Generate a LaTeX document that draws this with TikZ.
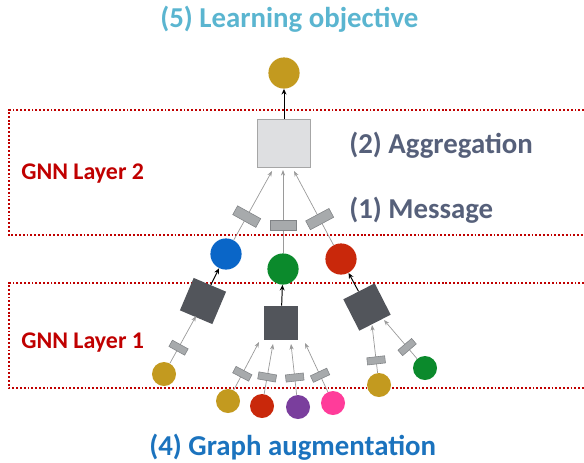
\documentclass[tikz,border=0pt]{standalone}
\usepackage{fontspec}
\setmainfont{Carlito}
\definecolor{cgold}{HTML}{C39A1F}
\definecolor{cblue}{HTML}{0A66C8}
\definecolor{cgreen}{HTML}{0B8A2C}
\definecolor{cred}{HTML}{C9280B}
\definecolor{cpurple}{HTML}{7A3E9D}
\definecolor{cpink}{HTML}{FF3C9A}
\definecolor{darkbox}{HTML}{52555B}
\definecolor{boxfill}{HTML}{DEDFE1}
\definecolor{boxedge}{HTML}{A6A6A6}
\definecolor{msgfill}{HTML}{A7AAAC}
\definecolor{msgedge}{HTML}{808386}
\definecolor{edgegray}{HTML}{9A9A9A}
\definecolor{layerred}{HTML}{C00000}
\definecolor{slate}{HTML}{56607A}
\definecolor{skyblue}{HTML}{5AB5D0}
\definecolor{augblue}{HTML}{1B73BE}
\usepackage{tikz}
\usetikzlibrary{arrows.meta}

\begin{document}
\begin{tikzpicture}[x=0.025cm, y=-0.025cm,
    vtx/.style={circle, minimum size=0.78cm, inner sep=0},
    leaf/.style={circle, minimum size=0.6cm, inner sep=0},
    aggbox/.style={draw=boxedge, fill=boxfill, line width=0.6pt, minimum width=1.32cm, minimum height=1.2cm},
    convbox/.style={fill=darkbox, minimum size=0.88cm, inner sep=0},
    msg/.style={draw=msgedge, fill=msgfill, line width=0.4pt, inner sep=0, sloped, minimum width=0.25cm, minimum height=0.66cm},
    smallmsg/.style={msg, minimum width=0.18cm, minimum height=0.45cm},
    edge/.style={draw=edgegray, line width=0.5pt, -{Stealth[length=4pt, width=3pt]}},
    up/.style={draw=black, line width=0.7pt, -{Stealth[length=4pt, width=3.5pt]}},
    layerbox/.style={draw=layerred, line width=1.3pt, dash pattern=on 1.3pt off 1.4pt},
    steptext/.style={anchor=base west, inner sep=0, font=\fontsize{20.5}{24}\selectfont\bfseries},
    layertext/.style={anchor=base west, inner sep=0, text=layerred, font=\fontsize{17}{20}\selectfont\bfseries},
]
    \useasboundingbox (0,0) rectangle (584,462);

    % layer frames, open to the right
    \draw[layerbox] (584,110) -- (9,110) -- (9,235) -- (584,235);
    \draw[layerbox] (584,283) -- (9,283) -- (9,388) -- (584,388);

    \node[layertext] (lay2) at (21,179) {GNN Layer 2};
    \node[layertext] (lay1) at (21,348) {GNN Layer 1};
    \node[steptext, text=skyblue] (objlabel) at (160,27) {(5) Learning objective};
    \node[steptext, text=slate] (agglabel) at (349,153) {(2) Aggregation};
    \node[steptext, text=slate] (msglabel) at (349,218) {(1) Message};
    \node[steptext, text=augblue] (auglabel) at (149,455) {(4) Graph augmentation};

    % layer 2
    \node[vtx, fill=cgold] (out) at (284,73) {};
    \node[aggbox] (agg) at (284,143) {};
    \node[vtx, fill=cblue] (hb) at (226,254) {};
    \node[vtx, fill=cgreen] (hg) at (283,269) {};
    \node[vtx, fill=cred] (hr) at (341,259) {};

    % layer 1
    \node[convbox, rotate=-23] (sl) at (203,301) {};
    \node[convbox, minimum size=0.85cm] (sm) at (281,323) {};
    \node[convbox, rotate=27] (sr) at (367,307) {};
    \node[leaf, fill=cgold] (a1) at (164,374) {};
    \node[leaf, fill=cgold] (b1) at (228,401) {};
    \node[leaf, fill=cred] (b2) at (262,406) {};
    \node[leaf, fill=cpurple] (b3) at (298,407) {};
    \node[leaf, fill=cpink] (b4) at (333,403) {};
    \node[leaf, fill=cgold] (c1) at (379,385) {};
    \node[leaf, fill=cgreen] (c2) at (425,368) {};

    % arrow ends below the boxes
    \coordinate (t1) at (272,171);
    \coordinate (t2) at (283,170);
    \coordinate (t3) at (294,171);
    \coordinate (ta) at (196,316);
    \coordinate (tb1) at (259,342);
    \coordinate (tb2) at (273,344);
    \coordinate (tb3) at (291,344);
    \coordinate (tb4) at (305,343);
    \coordinate (tc1) at (372,325);
    \coordinate (tc2) at (384,320);

    \draw[up] (agg) -- (out);
    \draw[up] (sl) -- (hb);
    \draw[up] (sm) -- (hg);
    \draw[up] (sr) -- (hr);

    \draw[edge] (hb) -- node[msg, pos=0.34] {} (t1);
    \draw[edge] (hg) -- node[msg, pos=0.34] {} (t2);
    \draw[edge] (hr) -- node[msg, pos=0.35] {} (t3);

    \draw[edge] (a1) -- node[smallmsg, pos=0.33] {} (ta);
    \draw[edge] (b1) -- node[smallmsg, pos=0.34] {} (tb1);
    \draw[edge] (b2) -- node[smallmsg, pos=0.34] {} (tb2);
    \draw[edge] (b3) -- node[smallmsg, pos=0.34] {} (tb3);
    \draw[edge] (b4) -- node[smallmsg, pos=0.34] {} (tb4);
    \draw[edge] (c1) -- node[smallmsg, pos=0.26] {} (tc1);
    \draw[edge] (c2) -- node[smallmsg, pos=0.3] {} (tc2);
\end{tikzpicture}
\end{document}
